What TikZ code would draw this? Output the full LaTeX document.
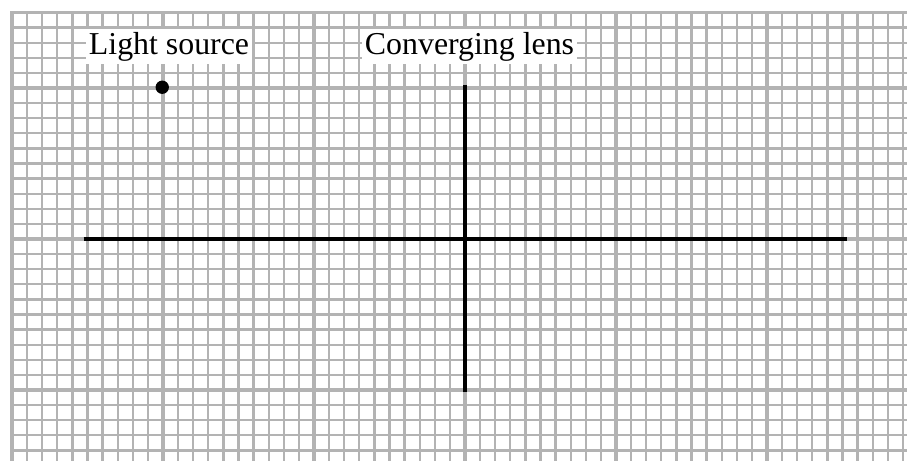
\documentclass[tikz,border=0pt]{standalone}
\usepackage{fontspec}
\setmainfont{Liberation Serif}
\definecolor{gridgray}{RGB}{179,179,179}
\tikzset{
  minorline/.style={draw=gridgray,line width=1.7pt},
  mediumline/.style={draw=gridgray,line width=2.4pt},
  majorline/.style={draw=gridgray,line width=3pt},
  axisline/.style={draw=black,line width=2.8pt},
  labelbox/.style={fill=white,inner xsep=2pt,inner ysep=2.5pt,anchor=base west,
    font=\fontsize{23.9}{28}\selectfont},
  srcdot/.style={circle,fill=black,inner sep=0pt,minimum size=10pt}
}
\begin{document}
\begin{tikzpicture}[x=11.325pt,y=11.325pt]
\useasboundingbox (-30.795,-14.636) rectangle (29.272,15.828);
\begin{scope}
\clip (-30.795,-14.636) rectangle (29.272,15.828);
% minor lines
\foreach \i in {-30,...,29}{
  \pgfmathtruncatemacro{\r}{mod(abs(\i),5)}
  \ifnum\r=0\relax\else
    \draw[minorline] (\i,15) -- (\i,-15);
  \fi
}
\foreach \j in {-15,...,15}{
  \pgfmathtruncatemacro{\r}{mod(abs(\j),5)}
  \ifnum\r=0\relax\else
    \draw[minorline] (-30,\j) -- (30,\j);
  \fi
}
% medium lines
\foreach \i in {-25,-15,-5,5,15,25}{
  \draw[mediumline] (\i,15) -- (\i,-15);
}
\foreach \j in {-15,-5,5}{
  \draw[mediumline] (-30,\j) -- (30,\j);
}
\draw[mediumline,line cap=rect] (-30,15) -- (30,15);
% major lines
\foreach \i in {-20,-10,0,10,20}{
  \draw[majorline] (\i,15) -- (\i,-15);
}
\draw[majorline,line cap=rect] (-30,15) -- (-30,-15);
\foreach \j in {-10,0,10}{
  \draw[majorline] (-30,\j) -- (30,\j);
}
\end{scope}
% optical axis and lens
\coordinate (axisL) at (-25.25,0);
\coordinate (axisR) at (25.3,0);
\coordinate (lensT) at (0,10.2);
\coordinate (lensB) at (0,-10.15);
\draw[axisline] (axisL) -- (axisR);
\draw[axisline] (lensT) -- (lensB);
% light source
\node[srcdot] (src) at (-20.05,10.05) {};
% labels
\node[labelbox] (lsLabel) at (-25.1,12.25) {Light source};
\node[labelbox] (lensLabel) at (-6.82,12.25) {Converging lens};
\end{tikzpicture}
\end{document}
